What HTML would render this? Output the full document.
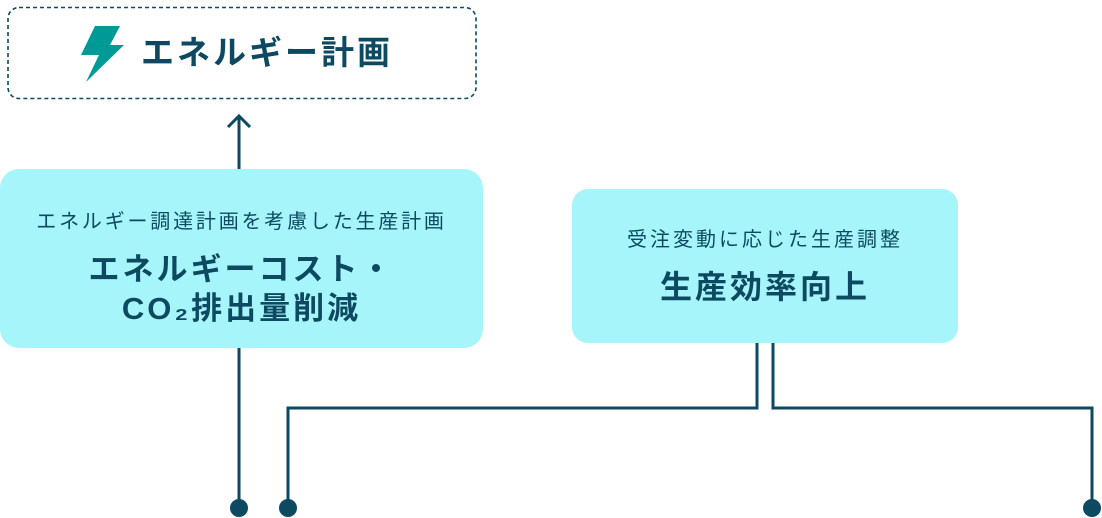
<!DOCTYPE html>
<html><head><meta charset="utf-8"><style>
body{margin:0;width:1102px;height:518px;background:#fff;position:relative;overflow:hidden;font-family:"Liberation Sans","Noto Sans CJK JP",sans-serif;color:#0d4a62}
.abs{position:absolute}
.t{position:absolute;white-space:nowrap;text-align:center;left:0;right:0}
</style></head><body>
<svg class="abs" style="left:0;top:0" width="1102" height="518">
<rect x="8" y="7.5" width="468" height="91" rx="11" fill="none" stroke="#0d4a62" stroke-width="1.6" stroke-dasharray="4,3"/>
<polygon points="95,26 120,26 110,45 124,45 86,82 99,55 81,55" fill="#009a96"/>
<rect x="0" y="169" width="483" height="179" rx="19" fill="#a6f5fb"/>
<rect x="572" y="189" width="386" height="154" rx="16" fill="#a6f5fb"/>
<g stroke="#0d4a62" stroke-width="3" fill="none">
<line x1="239" y1="116" x2="239" y2="169"/>
<polyline points="228,127 239,116 250,127"/>
<line x1="239" y1="348" x2="239" y2="508"/>
<polyline points="757,343 757,408 288,408 288,508"/>
<polyline points="773,343 773,408 1092,408 1092,508"/>
</g>
<g fill="#0d4a62"><circle cx="239" cy="508" r="9"/><circle cx="288" cy="508" r="9"/><circle cx="1092" cy="508" r="9"/></g>
</svg>
<div class="abs" style="left:141px;top:32px;font-size:33px;font-weight:bold;letter-spacing:3px;line-height:42px">エネルギー計画</div>
<div class="abs" style="left:0;top:169px;width:483px;height:179px">
<div class="t" style="top:38px;font-size:20px;letter-spacing:2.8px;line-height:30px">エネルギー調達計画を考慮した生産計画</div>
<div class="t" style="top:81px;font-size:31px;font-weight:bold;letter-spacing:3px;line-height:39px">エネルギーコスト・<br>CO₂排出量削減</div>
</div>
<div class="abs" style="left:572px;top:189px;width:386px;height:154px">
<div class="t" style="top:36px;font-size:20px;letter-spacing:3px;line-height:30px">受注変動に応じた生産調整</div>
<div class="t" style="top:78px;font-size:32px;font-weight:bold;letter-spacing:3px;line-height:40px">生産効率向上</div>
</div>
</body></html>
